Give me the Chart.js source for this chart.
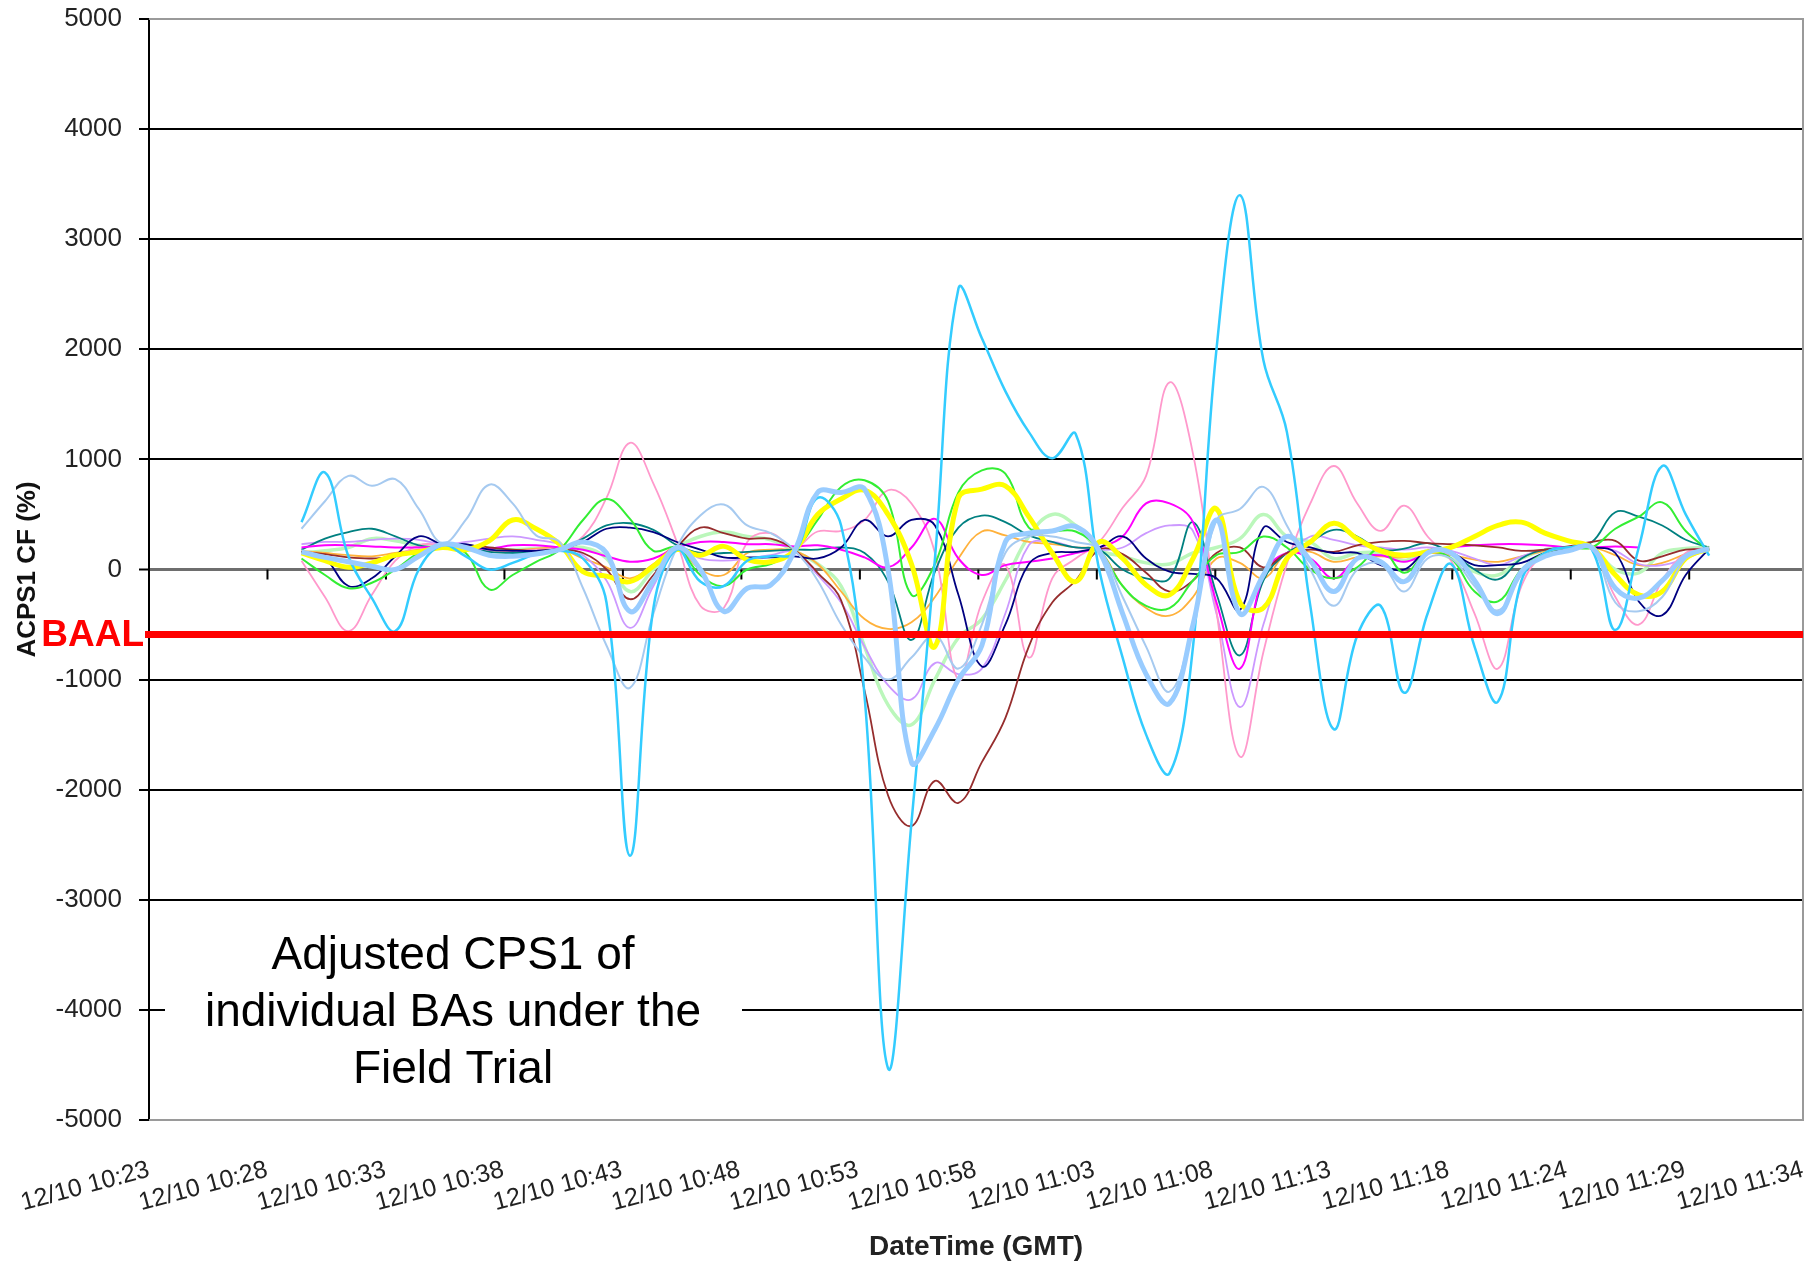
<!DOCTYPE html>
<html><head><meta charset="utf-8">
<script src="https://cdn.jsdelivr.net/npm/chart.js@4.4.1/dist/chart.umd.min.js"></script>
<style>html,body{margin:0;padding:0;background:#fff;}canvas{display:block;}</style>
</head><body>
<canvas id="c" width="1820" height="1267"></canvas>
<script>
// ---------- data ----------
const tickLabels = ['12/10 10:23','12/10 10:28','12/10 10:33','12/10 10:38','12/10 10:43','12/10 10:48',
  '12/10 10:53','12/10 10:58','12/10 11:03','12/10 11:08','12/10 11:13','12/10 11:18','12/10 11:24',
  '12/10 11:29','12/10 11:34'];
const axisSpanMinutes = 70.5;                      // 10:23 -> 11:34 on the category axis
const sampleMinutes = Array.from({length: 61}, (_, i) => 6.5 + i); // one sample per minute
const zeroAxisMarks = [5.05, 10.1, 15.15, 20.2, 25.25, 30.3, 35.35, 40.4, 45.45, 50.5, 55.55, 60.6, 65.65];
const BAAL = -590;

const baCyan = [430,880,120,-260,-560,0,220,120,0,60, 140,170,100,-300,-2600,-350,180,-110,-150,80,
  120,150,650,400,-1150,-4530,-2300,100,2550,2100, 1620,1250,1010,1230,0,-800,-1500,-1850,-700,2000,
  3400,1900,1250,-330,-1450,-600,-330,-1120,-400,50, -700,-1200,-100,150,200,180,-550,200,940,500, 125];
const baBrown = [160,140,110,100,120,160,200,220,200,180, 170,180,150,0,-270,-50,200,380,330,280,
  280,180,-30,-280,-1100,-2050,-2330,-1920,-2120,-1750, -1350,-700,-300,-100,180,140,-30,-200,-100,150,
  200,20,150,180,160,220,250,260,240,230, 220,200,170,180,210,250,260,80,120,180, 180];
const baPink = [80,-250,-560,-230,80,220,220,180,170,170, 180,200,300,650,1150,780,250,-330,-350,250,
  330,200,345,350,450,720,600,150,-1000,-300, 40,-800,-80,100,250,560,850,1700,1050,-380,
  -1700,-750,50,600,940,600,350,580,300,80, -400,-900,-150,150,180,200,-250,-500,-100,150, 200];
const baThickBlue = [160,110,70,30,0,120,230,200,130,120, 140,180,250,150,-380,-100,200,0,-380,-170,
  -140,160,700,700,730,0,-1750,-1450,-1000,-690, 250,330,350,390,170,-400,-950,-1215,-500,450,
  -400,-50,300,80,-200,100,70,-110,150,150, -100,-400,-20,120,170,200,-170,-260,-100,120, 190];
const baYellow = [150,80,20,60,130,160,200,180,260,450, 370,230,-20,-60,-110,30,180,130,210,90,
  70,170,500,640,720,500,50,-700,650,730, 760,480,150,-110,250,100,-140,-230,100,550,
  -300,-350,100,250,420,280,170,130,160,200, 300,400,430,330,260,200,-50,-230,-200,100, 190];
const baGreen = [100,-50,-170,-120,0,150,220,150,-180,-50, 70,180,450,640,460,170,200,-50,-150,0,
  50,170,450,750,810,620,-230,50,700,900, 870,380,350,345,180,-150,-330,-350,-100,130,
  160,300,200,0,-80,20,190,-30,150,100, -200,-290,0,150,200,200,370,480,610,350, 170];
const baNavy = [160,100,-150,-80,120,300,230,230,180,170, 170,190,250,370,380,340,250,180,110,110,
  110,120,100,200,450,300,450,400,-230,-880, -500,50,150,160,200,300,100,-20,-40,-80,
  -370,380,250,200,150,150,40,0,170,150, 40,40,60,150,190,200,150,-290,-415,-50, 190];
const baMagenta = [200,220,220,210,200,200,210,200,190,220, 220,200,180,120,70,100,200,250,250,230,
  230,210,220,180,110,20,200,460,100,-50, 40,70,100,150,200,300,600,600,430,-300,
  -900,-50,150,100,-80,100,130,70,150,200, 220,230,230,220,200,200,210,200,null,null, null];
const baTeal = [180,280,340,370,300,220,200,200,160,150, 160,180,280,400,420,360,220,150,150,160,
  170,180,180,200,150,-110,-640,-20,380,490, 430,310,250,200,180,0,-80,-80,430,-220,
  -780,-100,150,250,360,300,180,190,240,150, 0,-90,100,180,200,250,520,480,400,270, 200];
const baOrange = [170,150,130,120,150,180,200,180,160,170, 190,190,100,20,-80,50,200,0,-50,150,
  180,170,50,-200,-450,-540,-480,-250,100,345, 310,250,230,200,170,-150,-350,-420,-250,100,
  60,-80,150,160,70,110,120,110,150,130, 90,70,120,170,200,200,130,40,60,140, 190];
const baPaleGreen = [150,170,200,280,260,220,220,200,180,180, 190,190,200,100,-200,0,200,300,340,300,
  270,170,50,-150,-700,-1230,-1410,-1000,-620,-450, -100,300,500,400,180,120,60,50,150,200,
  280,500,300,250,100,150,150,80,170,100, -20,-50,100,180,200,200,0,-30,150,190, 200];
const baLavender = [230,250,250,270,280,270,230,250,280,300, 270,230,130,-100,-530,-150,200,100,80,100,
  130,160,-50,-300,-700,-1050,-1180,-850,-950,-900, -400,220,250,200,180,200,330,400,350,-400,
  -1250,-500,100,300,270,220,200,180,200,170, 100,40,120,180,200,210,170,50,40,100, 190];
const baThinBlue = [370,620,850,760,820,550,240,450,770,600, 310,250,-170,-690,-1075,-400,200,490,590,400,
  330,180,-100,-500,-800,-1000,-800,-600,-900,-500, 150,300,300,250,180,-250,-700,-1110,-500,450,
  550,750,400,0,-330,0,50,-200,100,100, -150,-370,-50,150,200,200,-300,-380,-250,100, 190];

// ---------- styles (drawing order: first = on top) ----------
const seriesList = [
  {name:'BA A', values: baThickBlue, color:'#99CCFF', width:5},
  {name:'BA B', values: baCyan,      color:'#33CCFF', width:2.5},
  {name:'BA C', values: baThinBlue,  color:'#A6CAF0', width:2},
  {name:'BA D', values: baYellow,    color:'#FFFF00', width:5},
  {name:'BA E', values: baGreen,     color:'#33EE33', width:2},
  {name:'BA F', values: baNavy,      color:'#000080', width:1.8},
  {name:'BA G', values: baBrown,     color:'#962D2D', width:1.8},
  {name:'BA H', values: baMagenta,   color:'#FF00FF', width:2},
  {name:'BA I', values: baTeal,      color:'#008080', width:1.8},
  {name:'BA J', values: baPink,      color:'#FF99CC', width:1.8},
  {name:'BA K', values: baLavender,  color:'#CC99FF', width:1.8},
  {name:'BA L', values: baOrange,    color:'#FFB13B', width:1.8},
  {name:'BA M', values: baPaleGreen, color:'#BBF7BB', width:3.5}
];

const FONT = "'Liberation Sans', Arial, sans-serif";
Chart.defaults.font.family = FONT;

// use a narrow face for tick labels when one is installed
const probe = document.createElement('canvas').getContext('2d');
probe.font = "40px 'Liberation Sans Narrow', monospace"; const wNarrow = probe.measureText('12/10 10:23').width;
probe.font = "40px monospace"; const wMono = probe.measureText('12/10 10:23').width;
const hasNarrow = Math.abs(wNarrow - wMono) > 0.5;
const tickFontX = hasNarrow ? {family: "'Liberation Sans Narrow', 'Liberation Sans', Arial", size: 29} : {size: 25};
const tickFontY = hasNarrow ? {family: "'Liberation Sans Narrow', 'Liberation Sans', Arial", size: 30} : {size: 26};

const decor = {
  id: 'decor',
  beforeDatasetsDraw(chart) {
    const {ctx, chartArea: a, scales} = chart;
    ctx.save();
    ctx.strokeStyle = '#9a9a9a'; ctx.lineWidth = 2;
    ctx.beginPath();
    ctx.moveTo(a.left, a.top); ctx.lineTo(a.right, a.top); ctx.lineTo(a.right, a.bottom); ctx.lineTo(a.left, a.bottom);
    ctx.stroke();
    const y0 = scales.y.getPixelForValue(0);
    ctx.strokeStyle = '#000'; ctx.lineWidth = 2;
    ctx.beginPath();
    zeroAxisMarks.forEach(m => { const px = scales.x.getPixelForValue(m); ctx.moveTo(px, y0); ctx.lineTo(px, y0 + 10); });
    ctx.stroke();
    ctx.restore();
  },
  afterDatasetsDraw(chart) {
    const {ctx, chartArea: a, scales} = chart;
    ctx.save();
    const yb = scales.y.getPixelForValue(BAAL);
    ctx.strokeStyle = '#FF0000'; ctx.lineWidth = 7;
    ctx.beginPath(); ctx.moveTo(a.left - 4, yb); ctx.lineTo(a.right, yb); ctx.stroke();
    ctx.fillStyle = '#FF0000'; ctx.font = 'bold 37px ' + FONT;
    ctx.textAlign = 'right'; ctx.textBaseline = 'middle';
    ctx.fillText('BAAL', a.left - 5, yb + 1);
    // annotation text box
    ctx.fillStyle = '#FFFFFF';
    ctx.fillRect(a.left + 16, a.bottom - 190, 577, 172);
    ctx.fillStyle = '#000'; ctx.font = '46px ' + FONT; ctx.textAlign = 'center';
    const cx = a.left + 304;
    ['Adjusted CPS1 of', 'individual BAs under the', 'Field Trial'].forEach((t, i) => ctx.fillText(t, cx, a.bottom - 164 + i * 57));
    ctx.restore();
  }
};

new Chart(document.getElementById('c'), {
  type: 'line',
  data: {
    datasets: seriesList.map(s => ({
      label: s.name,
      data: s.values.map((v, i) => ({x: sampleMinutes[i], y: v})),
      borderColor: s.color, backgroundColor: s.color, borderWidth: s.width,
      pointRadius: 0, tension: 0.4, fill: false, spanGaps: false
    }))
  },
  options: {
    responsive: false, animation: false, devicePixelRatio: 1,
    layout: {padding: {left: 0, right: 17, top: 19, bottom: 0}},
    plugins: {legend: {display: false}, tooltip: {enabled: false}},
    scales: {
      x: {
        type: 'linear', min: 0, max: axisSpanMinutes,
        afterBuildTicks: sc => { sc.ticks = tickLabels.map((_, i) => ({value: i * axisSpanMinutes / (tickLabels.length - 1)})); },
        afterFit: sc => { sc.height = 147; sc.paddingLeft = 0; sc.paddingRight = 0; },
        grid: {display: false, drawTicks: false},
        border: {display: false},
        ticks: {autoSkip: false, minRotation: 15, maxRotation: 15, padding: 35, color: '#222',
          font: tickFontX, callback: (v, i) => tickLabels[i]},
        title: {display: true, text: 'DateTime (GMT)', color: '#222', font: {size: 28, weight: 'bold'}, padding: {top: 0, bottom: 3}}
      },
      y: {
        min: -5000, max: 5000,
        afterFit: sc => { sc.width = 149; sc.paddingTop = 0; sc.paddingBottom = 0; },
        ticks: {stepSize: 1000, padding: 17, color: '#222', font: tickFontY, callback: v => String(v)},
        grid: {
          color: c => (c.tick.value === 5000 || c.tick.value === -5000) ? '#9a9a9a' : (c.tick.value === 0 ? '#6e6e6e' : '#000'),
          lineWidth: c => c.tick.value === 0 ? 3 : 2,
          tickColor: '#000', tickLength: 10, tickWidth: 2
        },
        border: {color: '#000', width: 2},
        title: {display: true, text: 'ACPS1 CF (%)', color: '#111', font: {size: 26, weight: 'bold'}, padding: {top: 12, bottom: 0}}
      }
    }
  },
  plugins: [decor]
});
</script>
</body></html>
